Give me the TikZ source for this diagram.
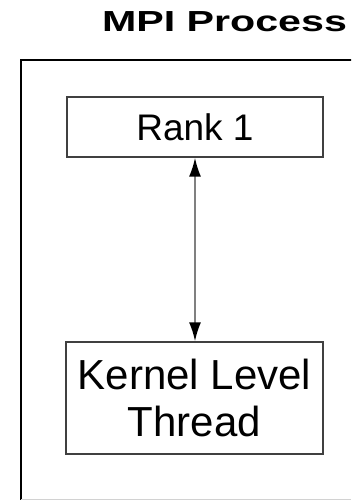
\documentclass[tikz,border=0pt]{standalone}
\usepackage{fontspec}
\setmainfont{Liberation Sans}
\usetikzlibrary{arrows.meta}
\definecolor{edge}{rgb}{0.25, 0.25, 0.25}
\definecolor{link}{rgb}{0.5, 0.5, 0.5}
\tikzstyle{box}=[rectangle,draw=edge,line width=1.3pt,inner sep=0pt]
\tikzstyle{tip}=[{Latex[length=19pt,width=12pt,color=black]}-{Latex[length=19pt,width=12pt,color=black]}]

\begin{document}
\begin{tikzpicture}[x=1pt,y=1pt]
\useasboundingbox (0,0) rectangle (351,500);
\clip (0,0) rectangle (351,500);
\draw[line width=2.4pt]
  (21,0)
   -- (21,440)
   -- (360,440);
\draw[gray!35, line width=0.8pt]
  (21,0.6)
   -- (351,0.6);
\node[font=\bfseries\fontsize{29}{33}\selectfont] (title) at (224.5,478) {\scalebox{1.42}[1]{MPI Process}};
\node[box, minimum width=256pt, minimum height=60pt, font=\fontsize{37}{44}\selectfont] (rank) at (195,373) {Rank 1};
\node[box, minimum width=257pt, minimum height=112pt, align=center, font=\fontsize{42}{47}\selectfont] (klt) at (194.5,102) {Kernel Level\\Thread};
\draw[tip, draw=link, line width=2pt]
  (rank.south)
   -- (rank.south |- klt.north);
\end{tikzpicture}
\end{document}
